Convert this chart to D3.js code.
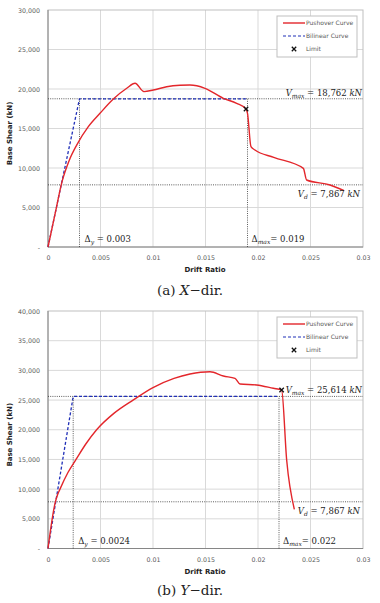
<!DOCTYPE html>
<html>
<head>
<meta charset="utf-8">
<script src="https://cdn.jsdelivr.net/npm/d3@7"></script>
<style>
  body { margin: 0; background: #fff; }
  svg { display: block; }
</style>
</head>
<body>
<svg id="vis" width="380" height="603"></svg>
<script>
// ---- data ----
var driftTicks = [0, 0.005, 0.01, 0.015, 0.02, 0.025, 0.03];
var shearTicksX = [0, 5000, 10000, 15000, 20000, 25000, 30000];
var shearTicksY = [0, 5000, 10000, 15000, 20000, 25000, 30000, 35000, 40000];

// X-dir pushover curve: [drift, base shear kN]
var pushoverX = [
  [0, 0], [0.0007, 4350], [0.00133, 8250], [0.0020, 10900], [0.00273, 12900],
  [0.00384, 15230], [0.00495, 16920], [0.00622, 18730], [0.0075, 20090],
  [0.00829, 20720], [0.00914, 19670], [0.01003, 19870], [0.0113, 20290],
  [0.01257, 20470], [0.01352, 20500], [0.01495, 20090], [0.0167, 18820],
  [0.01797, 18190], [0.01886, 17470], [0.0190, 16920], [0.01933, 12700],
  [0.01971, 12280], [0.0215, 11350], [0.02432, 9960], [0.02463, 8480],
  [0.02686, 7850], [0.0282, 7130]
];
// Y-dir pushover curve
var pushoverY = [
  [0, 0], [0.00067, 7610], [0.0009, 9000], [0.00114, 10000], [0.0019, 12800],
  [0.00267, 15000], [0.0036, 17600], [0.00463, 20000], [0.0063, 22800],
  [0.0081, 25000], [0.0100, 27100], [0.0120, 28650], [0.01352, 29390],
  [0.01543, 29780], [0.0167, 29050], [0.01781, 28660], [0.01829, 27700],
  [0.01987, 27540], [0.02146, 26980], [0.02225, 26690], [0.02273, 14900],
  [0.02346, 6600]
];

var yieldDrift = [0.003, 0.0024];
var maxDrift = [0.019, 0.022];
var maxShear = [18762, 25614];
var designShear = [7867, 7867];
var limitPoint = [[0.01886, 17470], [0.02225, 26690]];

var deltaYLabel = ["0.003", "0.0024"];
var deltaMaxLabel = ["0.019", "0.022"];
var vMaxLabel = ["18,762", "25,614"];
var vdLabel = ["7,867", "7,867"];
var captionLetter = ["(a)", "(b)"];
var captionAxis = ["X", "Y"];

var svg = d3.select("#vis");

var charts = [
  {top: 10, bottom: 247, yMax: 30000, yTicks: shearTicksX, data: pushoverX, capY: 295},
  {top: 311, bottom: 548.5, yMax: 40000, yTicks: shearTicksY, data: pushoverY, capY: 595}
];

charts.forEach(function (c, i) { drawChart(c, i); });

function drawChart(c, i) {
  var LEFT = 48, RIGHT = 363;
  var g = svg.append("g");

  var x = d3.scaleLinear().domain([0, 0.03]).range([LEFT, RIGHT]);
  var y = d3.scaleLinear().domain([0, c.yMax]).range([c.bottom, c.top]);

  // gridlines
  g.append("g").selectAll("line").data(driftTicks.slice(1, -1)).join("line")
    .attr("x1", d => x(d)).attr("x2", d => x(d))
    .attr("y1", c.top).attr("y2", c.bottom)
    .attr("stroke", "#d9d9d9").attr("stroke-width", 1);
  g.append("g").selectAll("line").data(c.yTicks.slice(1, -1)).join("line")
    .attr("x1", LEFT).attr("x2", RIGHT)
    .attr("y1", d => y(d)).attr("y2", d => y(d))
    .attr("stroke", "#d9d9d9").attr("stroke-width", 1);

  // border
  g.append("rect")
    .attr("x", LEFT).attr("y", c.top)
    .attr("width", RIGHT - LEFT).attr("height", c.bottom - c.top)
    .attr("fill", "none").attr("stroke", "#bfbfbf");
  g.append("line").attr("x1", LEFT).attr("x2", LEFT)
    .attr("y1", c.top).attr("y2", c.bottom).attr("stroke", "#868686");
  g.append("line").attr("x1", LEFT).attr("x2", RIGHT)
    .attr("y1", c.bottom).attr("y2", c.bottom).attr("stroke", "#868686");

  // axes (labels only)
  var ya = g.append("g")
    .attr("transform", "translate(" + (LEFT - 8) + ",0)")
    .call(d3.axisLeft(y).tickValues(c.yTicks).tickSize(0)
      .tickFormat(d => d === 0 ? "-" : d3.format(",")(d)));
  ya.select(".domain").remove();
  ya.selectAll("text").attr("font-family", "DejaVu Sans, sans-serif")
    .attr("font-size", 6.3).attr("fill", "#595959").attr("x", 0);

  var xa = g.append("g")
    .attr("transform", "translate(0," + (c.bottom + 6) + ")")
    .call(d3.axisBottom(x).tickValues(driftTicks).tickSize(0)
      .tickFormat(d => d === 0 ? "0" : String(+d.toFixed(3))));
  xa.select(".domain").remove();
  xa.selectAll("text").attr("font-family", "DejaVu Sans, sans-serif")
    .attr("font-size", 6.3).attr("fill", "#595959");

  // axis titles
  g.append("text")
    .attr("transform", "translate(12," + ((c.top + c.bottom) / 2 + 5) + ") rotate(-90)")
    .attr("text-anchor", "middle")
    .attr("font-family", "DejaVu Sans, sans-serif").attr("font-weight", "bold")
    .attr("font-size", 7).attr("fill", "#222")
    .text("Base Shear (kN)");
  g.append("text")
    .attr("x", 205).attr("y", c.bottom + 25)
    .attr("text-anchor", "middle")
    .attr("font-family", "DejaVu Sans, sans-serif").attr("font-weight", "bold")
    .attr("font-size", 7).attr("fill", "#222")
    .text("Drift Ratio");

  // reference dotted lines
  var refs = [
    [0, maxShear[i], 0.03, maxShear[i]],
    [0, designShear[i], 0.03, designShear[i]],
    [yieldDrift[i], 0, yieldDrift[i], maxShear[i]],
    [maxDrift[i], 0, maxDrift[i], maxShear[i]]
  ];
  g.append("g").selectAll("line").data(refs).join("line")
    .attr("x1", d => x(d[0])).attr("y1", d => y(d[1]))
    .attr("x2", d => x(d[2])).attr("y2", d => y(d[3]))
    .attr("stroke", "#333").attr("stroke-width", 0.8)
    .attr("stroke-dasharray", "1,1.2");

  // bilinear curve
  var bilinear = [[0, 0], [yieldDrift[i], maxShear[i]], [maxDrift[i], maxShear[i]]];
  var line = d3.line().x(d => x(d[0])).y(d => y(d[1]));
  g.append("path")
    .attr("d", line(bilinear))
    .attr("fill", "none").attr("stroke", "#2130b8")
    .attr("stroke-width", 1.3).attr("stroke-dasharray", "3,2");

  // pushover curve
  var smooth = d3.line().x(d => x(d[0])).y(d => y(d[1])).curve(d3.curveMonotoneX);
  g.append("path")
    .attr("d", smooth(c.data))
    .attr("fill", "none").attr("stroke", "#e3262b")
    .attr("stroke-width", 1.4).attr("stroke-linejoin", "round");

  // limit marker
  drawCross(g, x(limitPoint[i][0]), y(limitPoint[i][1]));

  // annotations
  var serif = "DejaVu Serif, serif";
  var ty = g.append("text").attr("x", x(yieldDrift[i]) + 5).attr("y", c.bottom - 5)
    .attr("font-family", serif).attr("font-size", 8.5).attr("fill", "#222");
  ty.append("tspan").text("\u0394");
  ty.append("tspan").attr("font-style", "italic").attr("font-size", 6).attr("dy", 2).text("y");
  ty.append("tspan").attr("dy", -2).text(" = " + deltaYLabel[i]);

  var tm = g.append("text").attr("x", x(maxDrift[i]) + 4).attr("y", c.bottom - 5)
    .attr("font-family", serif).attr("font-size", 8.5).attr("fill", "#222");
  tm.append("tspan").text("\u0394");
  tm.append("tspan").attr("font-style", "italic").attr("font-size", 6).attr("dy", 2).text("max");
  tm.append("tspan").attr("dy", -2).text("= " + deltaMaxLabel[i]);

  var tv = g.append("text").attr("x", RIGHT - 1).attr("y", y(maxShear[i]) - 3)
    .attr("text-anchor", "end")
    .attr("font-family", serif).attr("font-size", 8.5).attr("fill", "#222");
  tv.append("tspan").attr("font-style", "italic").text("V");
  tv.append("tspan").attr("font-style", "italic").attr("font-size", 6).attr("dy", 2).text("max");
  tv.append("tspan").attr("dy", -2).text(" = " + vMaxLabel[i] + " ");
  tv.append("tspan").attr("font-style", "italic").text("kN");

  var td = g.append("text").attr("x", RIGHT - 3).attr("y", y(designShear[i]) + 12)
    .attr("text-anchor", "end")
    .attr("font-family", serif).attr("font-size", 8.5).attr("fill", "#222");
  td.append("tspan").attr("font-style", "italic").text("V");
  td.append("tspan").attr("font-style", "italic").attr("font-size", 6).attr("dy", 2).text("d");
  td.append("tspan").attr("dy", -2).text(" = " + vdLabel[i] + " ");
  td.append("tspan").attr("font-style", "italic").text("kN");

  // legend
  var lg = g.append("g").attr("transform", "translate(277," + (c.top + 6) + ")");
  lg.append("rect").attr("width", 80).attr("height", 41)
    .attr("fill", "#fff").attr("stroke", "#bfbfbf");
  var items = ["Pushover Curve", "Bilinear Curve", "Limit"];
  items.forEach(function (name, k) {
    var yy = 7 + k * 13;
    if (k === 0) {
      lg.append("line").attr("x1", 6).attr("x2", 28).attr("y1", yy).attr("y2", yy)
        .attr("stroke", "#e3262b").attr("stroke-width", 1.4);
    } else if (k === 1) {
      lg.append("line").attr("x1", 6).attr("x2", 28).attr("y1", yy).attr("y2", yy)
        .attr("stroke", "#2130b8").attr("stroke-width", 1.2).attr("stroke-dasharray", "3,2");
    } else {
      drawCross(lg, 17, yy);
    }
    lg.append("text").attr("x", 29).attr("y", yy + 2.2)
      .attr("font-family", "DejaVu Sans, sans-serif").attr("font-size", 6)
      .attr("fill", "#595959").text(name);
  });

  // caption
  var cap = svg.append("text").attr("x", 190).attr("y", c.capY)
    .attr("text-anchor", "middle")
    .attr("font-family", "DejaVu Serif, serif").attr("font-size", 13.5).attr("fill", "#222");
  cap.append("tspan").text(captionLetter[i] + "  ");
  cap.append("tspan").attr("font-style", "italic").text(captionAxis[i]);
  cap.append("tspan").text("\u2212dir.");
}

function drawCross(sel, cx, cy) {
  var s = 2.2;
  sel.append("path")
    .attr("d", "M" + (cx - s) + "," + (cy - s) + "L" + (cx + s) + "," + (cy + s) +
      "M" + (cx - s) + "," + (cy + s) + "L" + (cx + s) + "," + (cy - s))
    .attr("stroke", "#111").attr("stroke-width", 1.3);
}
</script>
</body>
</html>
